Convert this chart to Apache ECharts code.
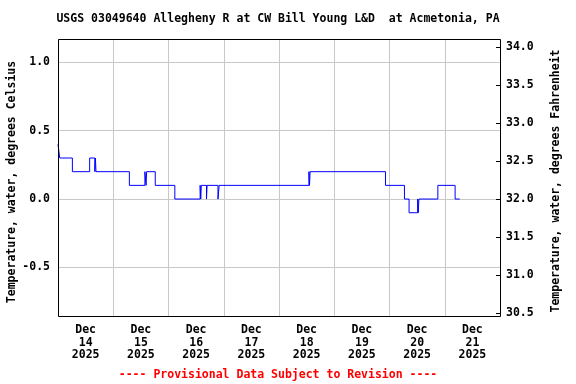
<!DOCTYPE html>
<html>
<head>
<meta charset="utf-8">
<script src="https://cdn.jsdelivr.net/npm/echarts@6/dist/echarts.min.js"></script>
<style>html,body{margin:0;padding:0;background:#fff}#c{width:576px;height:384px}</style>
</head>
<body>
<div id="c"></div>
<script>
// ---- data ----
var titleText = 'USGS 03049640 Allegheny R at CW Bill Young L&D  at Acmetonia, PA';
var leftName = 'Temperature, water, degrees Celsius';
var rightName = 'Temperature, water, degrees Fahrenheit';
var caption = '---- Provisional Data Subject to Revision ----';
var startDay = [2025, 11, 14];   // Dec 14 2025 (month 0-based)
var numDays = 8;
// change points: hours after Dec 14 00:00, temperature (deg C)
var hours = [0, 0.75, 6.25, 13.75, 16.0, 16.25, 16.5, 31.0, 37.75, 38.25, 38.5, 42.25, 50.75,
             61.75, 62.0, 62.25, 64.5, 64.75, 69.5, 70.0, 109.0, 109.25, 109.5, 142.25, 150.5,
             152.5, 156.25, 156.5, 156.75, 165.0, 172.5, 174.5];
var tempC = [0.4, 0.3, 0.2, 0.3, 0.2, 0.3, 0.2, 0.1, 0.2, 0.1, 0.2, 0.1, 0.0,
             0.1, 0.0, 0.1, 0.0, 0.1, 0.0, 0.1, 0.2, 0.1, 0.2, 0.1, 0.0,
             -0.1, 0.0, -0.1, 0.0, 0.1, 0.0, 0.0];
var leftTicks = [-0.5, 0.0, 0.5, 1.0];
var rightTicks = [30.5, 31.0, 31.5, 32.0, 32.5, 33.0, 33.5, 34.0];
var cMin = -0.855, cMax = 1.17;

// ---- build ----
var DAY = 86400000, HOUR = 3600000;
var t0 = Date.UTC(startDay[0], startDay[1], startDay[2]);
var seriesData = hours.map(function (h, i) { return [t0 + h * HOUR, tempC[i]]; });
var noonTicks = [];
for (var d = 0; d < numDays; d++) noonTicks.push(t0 + d * DAY + DAY / 2);
var MON = ['Jan','Feb','Mar','Apr','May','Jun','Jul','Aug','Sep','Oct','Nov','Dec'];
var FONT = '"DejaVu Sans Mono", monospace';
var base = {fontFamily: FONT, fontWeight: 'bold', fontSize: 11.5, color: '#000'};
var G = {left: 58, right: 76, top: 39, bottom: 68};

var chart = echarts.init(document.getElementById('c'), null, {renderer: 'canvas'});
chart.setOption({
  animation: false,
  backgroundColor: '#fff',
  grid: {left: G.left, right: G.right, top: G.top, bottom: G.bottom, show: false},
  xAxis: {
    type: 'value', min: t0, max: t0 + numDays * DAY, interval: DAY,
    axisLine: {show: false}, axisTick: {show: false},
    splitLine: {show: true, lineStyle: {color: '#c8c8c8', width: 1}},
    axisLabel: Object.assign({}, base, {
      customValues: noonTicks, margin: 8, lineHeight: 12.5,
      formatter: function (v) { var dt = new Date(v); return MON[dt.getUTCMonth()] + '\n' + dt.getUTCDate() + '\n' + dt.getUTCFullYear(); }
    })
  },
  yAxis: [
    {
      type: 'value', min: cMin, max: cMax, splitNumber: 4, position: 'left',
      axisLine: {show: false}, axisTick: {show: false},
      splitLine: {show: true, lineStyle: {color: '#c8c8c8', width: 1}},
      axisLabel: Object.assign({}, base, {customValues: leftTicks, margin: 8, formatter: function (v) { return v.toFixed(1); }})
    },
    {
      type: 'value', min: cMin * 1.8 + 32, max: cMax * 1.8 + 32, position: 'right',
      axisLine: {show: false}, splitLine: {show: false},
      axisTick: {show: true, inside: true, length: 4, customValues: rightTicks, lineStyle: {color: '#000'}},
      axisLabel: Object.assign({}, base, {customValues: rightTicks, margin: 6, formatter: function (v) { return v.toFixed(1); }})
    }
  ],
  series: [{
    type: 'line', step: 'end', showSymbol: false, yAxisIndex: 0,
    lineStyle: {color: '#0000ff', width: 1}, data: seriesData, z: 3
  }],
  graphic: [
    {type: 'rect', z: 100, silent: true,
     shape: {x: G.left + 0.5, y: G.top + 0.5, width: 576 - G.left - G.right, height: 384 - G.top - G.bottom},
     style: {fill: 'none', stroke: '#000', lineWidth: 1}},
    {type: 'text', x: 278, y: 19, style: Object.assign({}, base, {text: titleText, fill: '#000', textAlign: 'center', textVerticalAlign: 'middle'})},
    {type: 'text', x: 12, y: 182, rotation: Math.PI / 2, style: Object.assign({}, base, {text: leftName, fill: '#000', textAlign: 'center', textVerticalAlign: 'middle'})},
    {type: 'text', x: 556, y: 181, rotation: Math.PI / 2, style: Object.assign({}, base, {text: rightName, fill: '#000', textAlign: 'center', textVerticalAlign: 'middle'})},
    {type: 'text', x: 278, y: 375, style: Object.assign({}, base, {text: caption, fill: '#ff0000', textAlign: 'center', textVerticalAlign: 'middle'})}
  ]
});
</script>
</body>
</html>
